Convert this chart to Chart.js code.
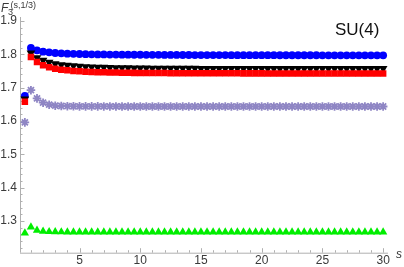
<!DOCTYPE html>
<html>
<head>
<meta charset="utf-8">
<script src="https://cdn.jsdelivr.net/npm/chart.js@4/dist/chart.umd.min.js"></script>
<style>
html,body{margin:0;padding:0;background:#fff;}
#wrap{width:404px;height:267px;position:relative;}
</style>
</head>
<body>
<div id="wrap"><canvas id="c" width="404" height="267"></canvas></div>
<script>
// s values: 0.5, 1.0, ..., 30.0
const sValues = [0.5,1,1.5,2,2.5,3,3.5,4,4.5,5,5.5,6,6.5,7,7.5,8,8.5,9,9.5,10,
  10.5,11,11.5,12,12.5,13,13.5,14,14.5,15,15.5,16,16.5,17,17.5,18,18.5,19,19.5,20,
  20.5,21,21.5,22,22.5,23,23.5,24,24.5,25,25.5,26,26.5,27,27.5,28,28.5,29,29.5,30];

const blueCircles = [1.675,1.819,1.812,1.808,1.806,1.804,1.803,1.802,1.8015,1.801,
  1.8005,1.800,1.7998,1.7996,1.7994,1.7992,1.799,1.7989,1.7988,1.7987,
  1.7986,1.7985,1.7984,1.7983,1.7982,1.7981,1.798,1.798,1.7979,1.7979,
  1.7978,1.7978,1.7977,1.7977,1.7976,1.7976,1.7975,1.7975,1.7975,1.7974,
  1.7974,1.7974,1.7973,1.7973,1.7973,1.7972,1.7972,1.7972,1.7972,1.7971,
  1.7971,1.7971,1.7971,1.797,1.797,1.797,1.797,1.797,1.797,1.797];

const blackTriangles = [1.666,1.804,1.790,1.782,1.776,1.772,1.769,1.767,1.7655,1.764,
  1.763,1.7622,1.7615,1.761,1.7605,1.76,1.7597,1.7594,1.7591,1.7589,
  1.7587,1.7585,1.7584,1.7583,1.7582,1.7581,1.758,1.7579,1.7579,1.7578,
  1.7578,1.7577,1.7577,1.7577,1.7576,1.7576,1.7576,1.7576,1.7575,1.7575,
  1.7575,1.7575,1.7575,1.7574,1.7574,1.7574,1.7574,1.7574,1.7574,1.7574,
  1.7573,1.7573,1.7573,1.7573,1.7573,1.7573,1.7573,1.7573,1.7573,1.7573];

const redSquares = [1.658,1.792,1.777,1.767,1.761,1.757,1.754,1.752,1.750,1.749,
  1.748,1.7472,1.7466,1.746,1.7456,1.7452,1.7449,1.7446,1.7444,1.7442,
  1.744,1.7439,1.7438,1.7437,1.7436,1.7435,1.7434,1.7433,1.7433,1.7432,
  1.7432,1.7431,1.7431,1.743,1.743,1.743,1.7429,1.7429,1.7429,1.7429,
  1.7428,1.7428,1.7428,1.7428,1.7428,1.7427,1.7427,1.7427,1.7427,1.7427,
  1.7427,1.7426,1.7426,1.7426,1.7426,1.7426,1.7426,1.7426,1.7426,1.7426];

const purpleStars = [1.596,1.6925,1.668,1.655,1.649,1.646,1.645,1.6445,1.6442,1.644,
  1.6439,1.6438,1.6438,1.6437,1.6437,1.6437,1.6436,1.6436,1.6436,1.6436,
  1.6436,1.6435,1.6435,1.6435,1.6435,1.6435,1.6435,1.6435,1.6435,1.6435,
  1.6435,1.6435,1.6435,1.6435,1.6435,1.6435,1.6435,1.6435,1.6435,1.6435,
  1.6435,1.6435,1.6435,1.6435,1.6435,1.6435,1.6435,1.6435,1.6435,1.6435,
  1.6435,1.6435,1.6435,1.6435,1.6435,1.6435,1.6435,1.6435,1.6435,1.6435];

const greenTriangles = [1.264,1.282,1.272,1.269,1.268,1.2675,1.2672,1.267,1.267,1.267,
  1.267,1.267,1.267,1.267,1.267,1.267,1.267,1.267,1.267,1.267,
  1.267,1.267,1.267,1.267,1.267,1.267,1.267,1.267,1.267,1.267,
  1.267,1.267,1.267,1.267,1.267,1.267,1.267,1.267,1.267,1.267,
  1.267,1.267,1.267,1.267,1.267,1.267,1.267,1.267,1.267,1.267,
  1.267,1.267,1.267,1.267,1.267,1.267,1.267,1.267,1.267,1.267];

const yTickLabels = [1.3,1.4,1.5,1.6,1.7,1.8,1.9];
const xTickLabels = [5,10,15,20,25,30];

function pts(arr){ return sValues.map((s,i)=>({x:s,y:arr[i]})); }

const AXIS = '#b0b0b0';
const TXT = '#3a3a3a';

const axesPlugin = {
  id:'mmaAxes',
  beforeDatasetsDraw(chart){
    const ctx = chart.ctx, xs = chart.scales.x, ys = chart.scales.y, a = chart.chartArea;
    ctx.save();
    ctx.strokeStyle = AXIS; ctx.lineWidth = 1;
    ctx.beginPath();
    ctx.moveTo(a.left+0.5, a.top); ctx.lineTo(a.left+0.5, a.bottom);
    ctx.moveTo(a.left, a.bottom+0.5); ctx.lineTo(a.right, a.bottom+0.5);
    for(let k=0;k<=35;k++){
      const v = 1.22 + k*0.02;
      if (v > ys.max+1e-9) break;
      const p = Math.round(ys.getPixelForValue(v))+0.5;
      const major = Math.abs(v*10 - Math.round(v*10))<1e-6;
      ctx.moveTo(a.left, p); ctx.lineTo(a.left + (major?4.5:2.5), p);
    }
    for(let v=1; v<=30; v++){
      const p = Math.round(xs.getPixelForValue(v))+0.5;
      const major = v%5===0;
      ctx.moveTo(p, a.bottom); ctx.lineTo(p, a.bottom - (major?4.5:2.5));
    }
    ctx.stroke();
    ctx.restore();
  },
  afterDatasetsDraw(chart){
    const ctx = chart.ctx;
    ctx.save();
    ctx.fillStyle = TXT;
    ctx.textBaseline = 'alphabetic';
    ctx.textAlign = 'left';
    ctx.font = 'italic 12px "Liberation Sans", Arial, sans-serif';
    ctx.fillText('F', 1, 12);
    ctx.font = '9px "Liberation Sans", Arial, sans-serif';
    ctx.fillText('3', 8, 15);
    ctx.fillText('(s,1/3)', 10.5, 7.5);
    ctx.font = 'italic 12px "Liberation Sans", Arial, sans-serif';
    ctx.fillText('s', 396, 258);
    ctx.fillStyle = '#111';
    ctx.font = '17px "Liberation Sans", Arial, sans-serif';
    ctx.fillText('SU(4)', 335, 35);
    ctx.restore();
  }
};

const mk = (label, data, color, style, radius, rotation) => ({
  label, data: pts(data), backgroundColor: color, borderColor: color,
  pointStyle: style, pointRadius: radius, pointHoverRadius: radius,
  pointBorderWidth: style==='star' ? 1.8 : 0, rotation: rotation||0, showLine:false
});

new Chart(document.getElementById('c'), {
  type:'scatter',
  data:{ datasets:[
    mk('green', greenTriangles, '#00ee00', 'triangle', 4.8),
    mk('purple', purpleStars, '#8f86c4', 'star', 4.3),
    mk('red', redSquares, '#ff0000', 'rect', 4.6),
    mk('black', blackTriangles, '#000000', 'triangle', 5.0, 180),
    mk('blue', blueCircles, '#0000ff', 'circle', 3.9)
  ]},
  options:{
    responsive:false, animation:false, devicePixelRatio:1,
    layout:{ padding:{ top:17, right:16, left:0, bottom:0 } },
    plugins:{ legend:{display:false}, tooltip:{enabled:false} },
    scales:{
      x:{ type:'linear', min:0.1, max:30.4,
        afterFit(s){ s.height = 14.3; },
        afterBuildTicks(s){ s.ticks = xTickLabels.map(v=>({value:v})); },
        grid:{ display:false, drawTicks:false },
        border:{ display:false },
        ticks:{ color:TXT, font:{ family:'"Liberation Sans", Arial, sans-serif', size:12 }, padding:1, maxRotation:0, autoSkip:false }
      },
      y:{ type:'linear', min:1.205, max:1.912,
        afterFit(s){ s.width = 20; },
        afterBuildTicks(s){ s.ticks = yTickLabels.map(v=>({value:v})); },
        grid:{ display:false, drawTicks:false },
        border:{ display:false },
        ticks:{ color:TXT, font:{ family:'"Liberation Sans", Arial, sans-serif', size:12 }, padding:3, autoSkip:false,
          callback:v=>v.toFixed(1) }
      }
    }
  },
  plugins:[axesPlugin]
});
</script>
</body>
</html>
